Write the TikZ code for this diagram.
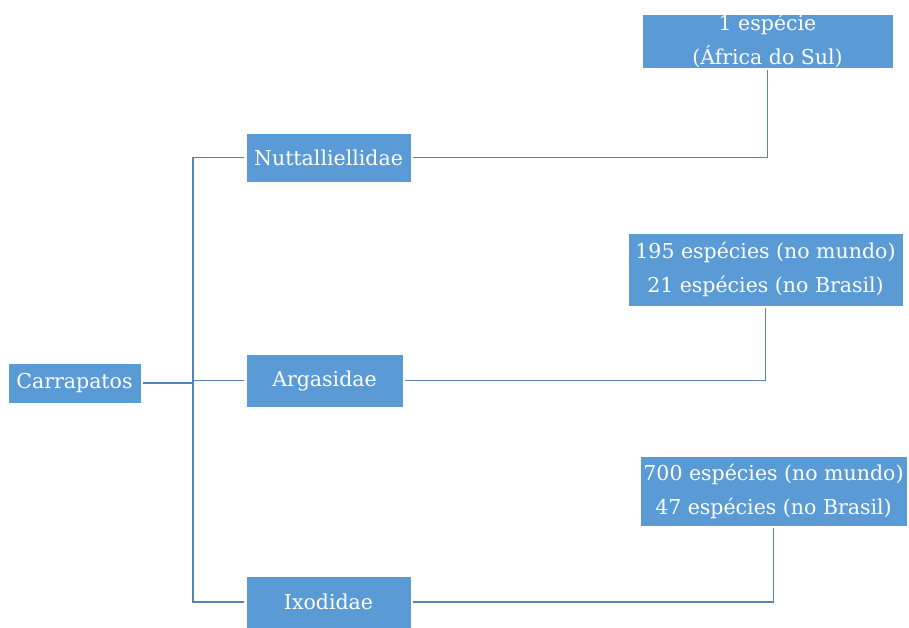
\documentclass[tikz,border=0pt]{standalone}
\usepackage{fontspec}
\setmainfont{DejaVu Serif}
\definecolor{boxblue}{RGB}{91,155,213}
\definecolor{lineblue}{RGB}{84,132,186}
\tikzset{
  box/.style={fill=boxblue, draw=white, line width=0.6pt, text=white, inner sep=0pt, outer sep=2pt, align=center,
    font=\fontsize{20.5}{34}\selectfont},
  link/.style={draw=lineblue, line width=1.9pt}
}
\begin{document}
\begin{tikzpicture}[x=1pt,y=-1pt]
\useasboundingbox (0,0) rectangle (909,628);
\node[box, minimum width=133pt, minimum height=40pt] (carr) at (74.5,383) {Carrapatos};
\node[box, minimum width=165pt, minimum height=49pt] (nut) at (328.5,157.5) {Nuttalliellidae};
\node[box, minimum width=157pt, minimum height=53pt] (arg) at (324.5,380.5) {Argasidae};
\node[box, minimum width=165pt, minimum height=52pt] (ixo) at (328.5,602) {Ixodidae};
\node[box, minimum width=251pt, minimum height=54pt] (b1) at (767.5,41) {1 espécie\\(África do Sul)};
\node[box, minimum width=275pt, minimum height=73pt] (b2) at (765.5,269.5) {195 espécies (no mundo)\\21 espécies (no Brasil)};
\node[box, minimum width=267pt, minimum height=70pt] (b3) at (773.5,491) {700 espécies (no mundo)\\47 espécies (no Brasil)};
\coordinate (trunk) at (193,0);
\draw[link] (carr.east) -- (carr.east -| trunk);
\draw[link] (nut.west) -- (nut.west -| trunk) -- (ixo.west -| trunk) -- (ixo.west);
\draw[link] (arg.west) -- (arg.west -| trunk);
\draw[link] (nut.east) -| (b1.south);
\draw[link] (arg.east) -| (b2.south);
\draw[link] (ixo.east) -| (b3.south);
\end{tikzpicture}
\end{document}
